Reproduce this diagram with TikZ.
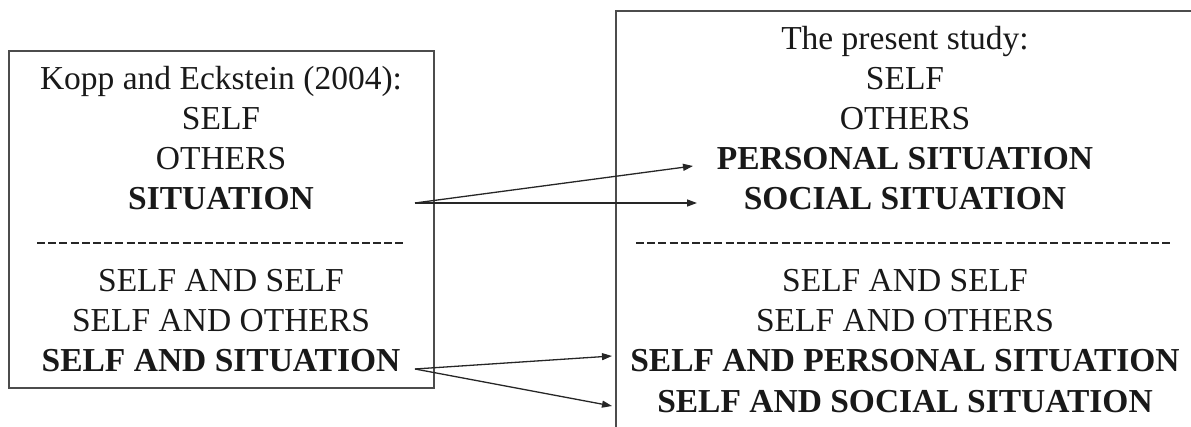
\documentclass[tikz,border=0pt]{standalone}
\usepackage{fontspec}
\setmainfont{Liberation Serif}
\usetikzlibrary{arrows.meta}
\begin{document}
\begin{tikzpicture}[x=1pt,y=-1pt,
  frame/.style={draw=black!70, line width=1.8pt, inner sep=0pt, outer sep=0pt},
  txt/.style={font=\fontsize{33.5}{40}\selectfont, anchor=base, inner sep=0pt, text=black!90},
  key/.style={txt, font=\fontsize{33.5}{40}\selectfont\bfseries},
  sep/.style={line width=2.9pt, black!85, dash pattern=on 8pt off 3.2pt},
  link/.style={line width=1.3pt, black!85, -{Triangle[length=10pt,width=7pt]}}
]
\useasboundingbox (0,0) rectangle (1191,427);

% the two frames
\node[frame, minimum width=425pt, minimum height=337pt] (prior) at (221.5,219.5) {};
\node[frame, minimum width=579pt, minimum height=440pt] (present) at (905.5,231) {};

% earlier model
\node[txt] (ptitle) at (221,90) {Kopp and Eckstein (2004):};
\node[txt] (pself) at (221,130) {SELF};
\node[txt] (pothers) at (221,170) {OTHERS};
\node[key] (psit) at (221,210) {SITUATION};
\draw[sep] (37,243) -- (405,243);
\node[txt] (pss) at (221,292) {SELF AND SELF};
\node[txt] (pso) at (221,332) {SELF AND OTHERS};
\node[key] (pssit) at (221,372) {SELF AND SITUATION};

% present model
\node[txt] (ntitle) at (905,50) {The present study:};
\node[txt] (nself) at (905,90) {SELF};
\node[txt] (nothers) at (905,130) {OTHERS};
\node[key] (npers) at (905,170) {PERSONAL SITUATION};
\node[key] (nsoc) at (905,210) {SOCIAL SITUATION};
\draw[sep] (636,243) -- (1170,243);
\node[txt] (nss) at (905,292) {SELF AND SELF};
\node[txt] (nso) at (905,332) {SELF AND OTHERS};
\node[key] (nspers) at (905,372) {SELF AND PERSONAL SITUATION};
\node[key] (nssoc) at (905,412) {SELF AND SOCIAL SITUATION};

% arrow end points
\coordinate (sitout) at (415,203);
\coordinate (persin) at (693,166);
\coordinate (socin) at (697,203);
\coordinate (ssitout) at (415,369);
\coordinate (spersin) at (612,356);
\coordinate (ssocin) at (612,406);

\draw[link] (sitout) -- (persin);
\draw[link] (sitout) -- (socin);
\draw[link] (ssitout) -- (spersin);
\draw[link] (ssitout) -- (ssocin);
\end{tikzpicture}
\end{document}
